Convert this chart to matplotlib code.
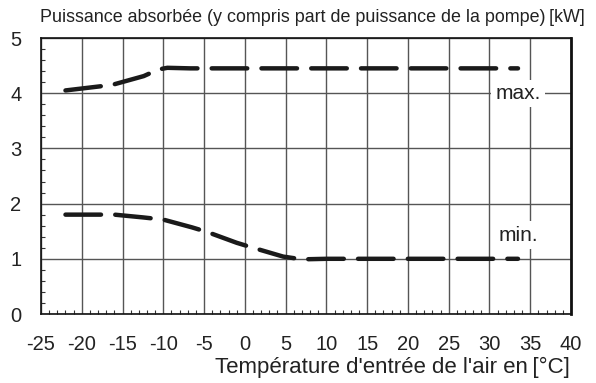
import numpy as np
import matplotlib.pyplot as plt
from matplotlib.ticker import MultipleLocator

plt.rcParams['font.family'] = ['Liberation Sans', 'DejaVu Sans']
plt.rcParams['axes.unicode_minus'] = False

# DATA
t_max = [-22, -18, -16.3, -12.4, -10.6, -9.5, -6.7, 0, 10, 20, 33.5]
p_max = [4.05, 4.12, 4.15, 4.31, 4.43, 4.46, 4.45, 4.45, 4.45, 4.45, 4.45]

t_min = [-22, -18, -16, -12.5, -10, -6.5, -4.7, -1, 1, 4.7, 7, 10, 20, 33.5]
p_min = [1.8, 1.8, 1.8, 1.75, 1.71, 1.57, 1.49, 1.29, 1.2, 1.04, 0.99, 1.0, 1.0, 1.0]

x_ticks = [-25, -20, -15, -10, -5, 0, 5, 10, 15, 20, 25, 30, 35, 40]
y_ticks = [0, 1, 2, 3, 4, 5]


# PLOT

fig = plt.figure(figsize=(5.96, 3.83), dpi=100)
ax = fig.add_axes([41 / 596, 1 - 314 / 383, 530 / 596, 276 / 383])

ax.set_xlim(-25, 40)
ax.set_ylim(0, 5)
ax.set_xticks(x_ticks)
ax.set_yticks(y_ticks)
ax.xaxis.set_minor_locator(MultipleLocator(1))
ax.yaxis.set_minor_locator(MultipleLocator(0.2))
ax.grid(True, which='major', color='#555555', linewidth=1.0)

ax.tick_params(which='major', length=0, labelsize=14.5, colors='#222222')
ax.tick_params(axis='x', which='major', pad=15)
ax.tick_params(axis='y', which='major', pad=14)
ax.tick_params(which='minor', direction='in', length=3, width=0.8, color='#333333')
ax.tick_params(axis='x', which='minor', top=False)
ax.tick_params(axis='y', which='minor', right=False)

for s in ax.spines.values():
    s.set_color('#111111')
    s.set_linewidth(1.2)
ax.spines['right'].set_linewidth(2)

dash = (0, (8, 3.2))
ax.plot(t_max, p_max, color='#1a1a1a', linewidth=3.2, linestyle=dash,
        dash_capstyle='round', solid_capstyle='round')
ax.plot(t_min, p_min, color='#1a1a1a', linewidth=3.2, linestyle=dash,
        dash_capstyle='round', solid_capstyle='round')

box = dict(facecolor='white', edgecolor='none', pad=3)
ax.text(33.5, 4.0, 'max.', fontsize=15, ha='center', va='center',
        color='#222222', bbox=box)
ax.text(33.5, 1.43, 'min.', fontsize=15, ha='center', va='center',
        color='#222222', bbox=box)

fig.text(40 / 596, 1 - 17 / 383,
         'Puissance absorbée (y compris part de puissance de la pompe)\u2009[kW]',
         fontsize=12.9, ha='left', va='center', color='#222222')
fig.text(570 / 596, 1 - 367 / 383, "Température d'entrée de l'air en\u2009[°C]",
         fontsize=16, ha='right', va='center', color='#222222')

fig.savefig('out.png', dpi=100)
